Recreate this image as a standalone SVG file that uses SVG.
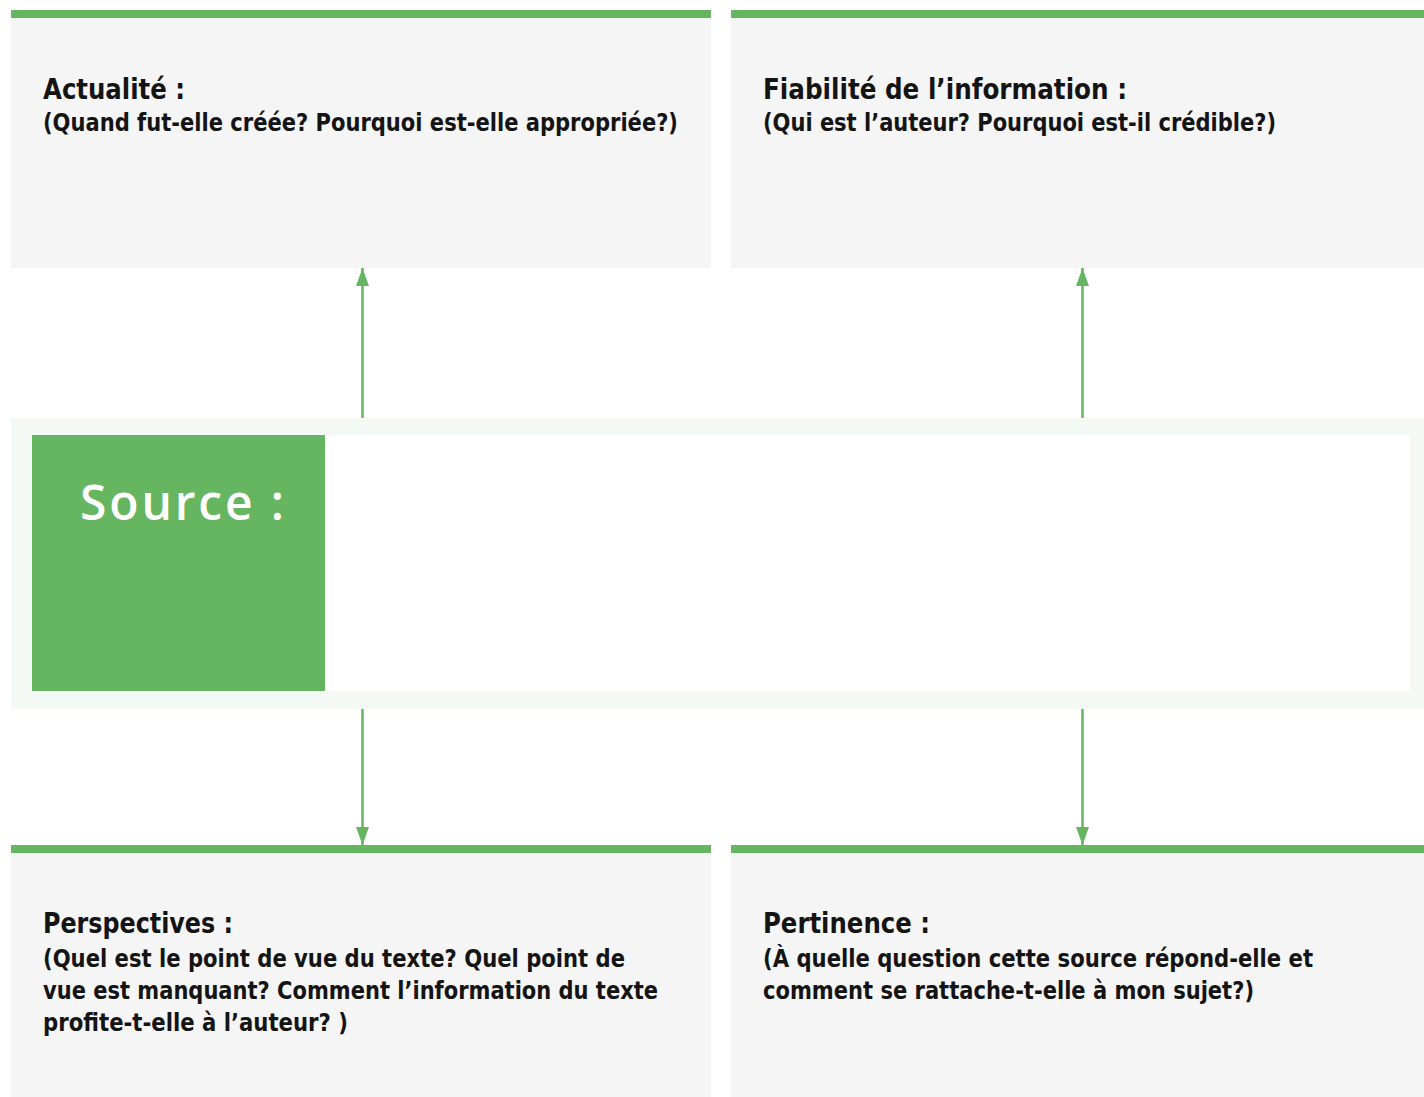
<svg xmlns="http://www.w3.org/2000/svg" width="1424" height="1097" viewBox="0 0 1424 1097">
<defs>
<style>
.card{fill:#f5f5f5}
.bar{fill:#66b561}
.t{font-family:"DejaVu Sans Condensed","DejaVu Sans",sans-serif;font-weight:bold;fill:#141414}
.h{font-size:28px}
.s{font-size:24px}
.conn{stroke:#66b561;stroke-width:2.5;fill:none}
</style>
<marker id="ah" viewBox="0 0 18 13" refX="18" refY="6.5" markerWidth="18" markerHeight="13" markerUnits="userSpaceOnUse" orient="auto">
<path d="M0,0 L18,6.5 L0,13 z" fill="#66b561"/>
</marker>
</defs>
<rect width="1424" height="1097" fill="#ffffff"/>
<g id="node-actualite">
<rect class="card" x="11" y="10" width="700" height="258"/>
<rect class="bar" x="11" y="10" width="700" height="8"/>
<text class="t h" x="43" y="99" textLength="142" lengthAdjust="spacingAndGlyphs">Actualité :</text>
<text class="t s" x="43" y="131" textLength="635" lengthAdjust="spacingAndGlyphs">(Quand fut-elle créée? Pourquoi est-elle appropriée?)</text>
</g>
<g id="node-fiabilite">
<rect class="card" x="731" y="10" width="693" height="258"/>
<rect class="bar" x="731" y="10" width="693" height="8"/>
<text class="t h" x="763" y="99" textLength="364" lengthAdjust="spacingAndGlyphs">Fiabilité de l’information :</text>
<text class="t s" x="763" y="131" textLength="513" lengthAdjust="spacingAndGlyphs">(Qui est l’auteur? Pourquoi est-il crédible?)</text>
</g>
<g id="node-source">
<rect x="11" y="418" width="1413" height="291" fill="#f5f9f5"/>
<rect x="325" y="435" width="1085" height="256" fill="#ffffff"/>
<rect x="32" y="435" width="293" height="256" fill="#66b561"/>
<text x="80" y="520" font-family="'Open Sans',sans-serif" font-weight="600" font-size="48" fill="#ffffff" textLength="204" lengthAdjust="spacing">Source :</text>
</g>
<g id="node-perspectives">
<rect class="card" x="11" y="845" width="700" height="252"/>
<rect class="bar" x="11" y="845" width="700" height="8"/>
<text class="t h" x="43" y="933" textLength="190" lengthAdjust="spacingAndGlyphs">Perspectives :</text>
<text class="t s" x="43" y="967" textLength="582" lengthAdjust="spacingAndGlyphs">(Quel est le point de vue du texte? Quel point de</text>
<text class="t s" x="43" y="999" textLength="615" lengthAdjust="spacingAndGlyphs">vue est manquant? Comment l’information du texte</text>
<text class="t s" x="43" y="1031" textLength="305" lengthAdjust="spacingAndGlyphs">profite-t-elle à l’auteur? )</text>
</g>
<g id="node-pertinence">
<rect class="card" x="731" y="845" width="693" height="252"/>
<rect class="bar" x="731" y="845" width="693" height="8"/>
<text class="t h" x="763" y="933" textLength="167" lengthAdjust="spacingAndGlyphs">Pertinence :</text>
<text class="t s" x="763" y="967" textLength="550" lengthAdjust="spacingAndGlyphs">(À quelle question cette source répond-elle et</text>
<text class="t s" x="763" y="999" textLength="491" lengthAdjust="spacingAndGlyphs">comment se rattache-t-elle à mon sujet?)</text>
</g>
<g id="connectors">
<line class="conn" x1="362.5" y1="418" x2="362.5" y2="268" marker-end="url(#ah)"/>
<line class="conn" x1="1082.5" y1="418" x2="1082.5" y2="268" marker-end="url(#ah)"/>
<line class="conn" x1="362.5" y1="709" x2="362.5" y2="845" marker-end="url(#ah)"/>
<line class="conn" x1="1082.5" y1="709" x2="1082.5" y2="845" marker-end="url(#ah)"/>
</g>
</svg>
